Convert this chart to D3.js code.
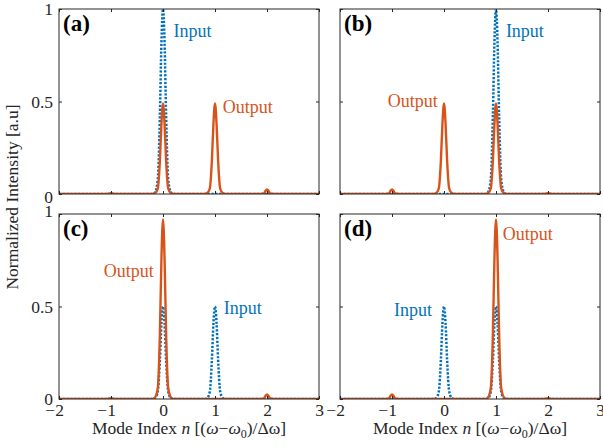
<!DOCTYPE html>
<html>
<head>
<meta charset="utf-8">
<script src="https://cdn.jsdelivr.net/npm/d3@7"></script>
<style>
  body { margin: 0; background: #fff; }
</style>
</head>
<body>
<div id="viz"></div>
<script>
// data: [mode index n, normalized intensity]
var xTicks = [-2, -1, 0, 1, 2, 3],
    yTicks = [0, 0.5, 1],
    panelNames = ['(a)', '(b)', '(c)', '(d)'];

var inputA = [[-2,0],[-0.2,0],[-0.15,0.01],[-0.1,0.08],[-0.06,0.42],[-0.03,0.82],[0,1],
  [0.03,0.82],[0.06,0.42],[0.1,0.08],[0.15,0.01],[0.2,0],[3,0]];
var outputA = [[-2,0],[-1.1,0],[-1,0.004],[-0.9,0],
  [-0.2,0],[-0.15,0.005],[-0.1,0.03],[-0.06,0.18],[-0.03,0.38],[0,0.49],[0.03,0.38],[0.06,0.18],[0.1,0.03],[0.15,0.005],[0.2,0],
  [0.8,0],[0.85,0.005],[0.9,0.03],[0.94,0.18],[0.97,0.38],[1,0.49],[1.03,0.38],[1.06,0.18],[1.1,0.03],[1.15,0.005],[1.2,0],
  [1.88,0],[1.94,0.003],[1.97,0.016],[2,0.025],[2.03,0.016],[2.06,0.003],[2.12,0],[3,0]];

var inputB = [[-2,0],[0.8,0],[0.85,0.01],[0.9,0.08],[0.94,0.42],[0.97,0.82],[1,1],
  [1.03,0.82],[1.06,0.42],[1.1,0.08],[1.15,0.01],[1.2,0],[3,0]];
var outputB = [[-2,0],
  [-1.12,0],[-1.06,0.003],[-1.03,0.016],[-1,0.025],[-0.97,0.016],[-0.94,0.003],[-0.88,0],
  [-0.2,0],[-0.15,0.005],[-0.1,0.03],[-0.06,0.18],[-0.03,0.38],[0,0.49],[0.03,0.38],[0.06,0.18],[0.1,0.03],[0.15,0.005],[0.2,0],
  [0.8,0],[0.85,0.005],[0.9,0.03],[0.94,0.18],[0.97,0.38],[1,0.49],[1.03,0.38],[1.06,0.18],[1.1,0.03],[1.15,0.005],[1.2,0],
  [1.9,0],[2,0.004],[2.1,0],[3,0]];

var inputCD = [[-2,0],
  [-0.2,0],[-0.15,0.005],[-0.1,0.04],[-0.06,0.21],[-0.03,0.41],[0,0.5],[0.03,0.41],[0.06,0.21],[0.1,0.04],[0.15,0.005],[0.2,0],
  [0.8,0],[0.85,0.005],[0.9,0.04],[0.94,0.21],[0.97,0.41],[1,0.5],[1.03,0.41],[1.06,0.21],[1.1,0.04],[1.15,0.005],[1.2,0],
  [3,0]];
var outputC = [[-2,0],[-1.1,0],[-1,0.004],[-0.9,0],
  [-0.2,0],[-0.15,0.01],[-0.1,0.06],[-0.06,0.35],[-0.03,0.76],[0,0.97],[0.03,0.76],[0.06,0.35],[0.1,0.06],[0.15,0.01],[0.2,0],
  [1.88,0],[1.94,0.003],[1.97,0.016],[2,0.025],[2.03,0.016],[2.06,0.003],[2.12,0],[3,0]];
var outputD = [[-2,0],
  [-1.12,0],[-1.06,0.003],[-1.03,0.016],[-1,0.025],[-0.97,0.016],[-0.94,0.003],[-0.88,0],
  [0.8,0],[0.85,0.01],[0.9,0.06],[0.94,0.35],[0.97,0.76],[1,0.97],[1.03,0.76],[1.06,0.35],[1.1,0.06],[1.15,0.01],[1.2,0],
  [1.9,0],[2,0.004],[2.1,0],[3,0]];

// label anchors in data units [n, I]
var panels = [
  {name: panelNames[0], input: inputA, output: outputA, inLab: [0.2, 0.85], outLab: [1.15, 0.44]},
  {name: panelNames[1], input: inputB, output: outputB, inLab: [1.19, 0.85], outLab: [-1.08, 0.47]},
  {name: panelNames[2], input: inputCD, output: outputC, inLab: [1.17, 0.46], outLab: [-1.14, 0.66]},
  {name: panelNames[3], input: inputCD, output: outputD, inLab: [-0.96, 0.45], outLab: [1.13, 0.86]}
];

var W = 603, H = 447,
    lefts = [59, 340], tops = [9, 214],
    pw = 260, ph = 185,
    serif = 'Liberation Serif',
    blue = '#0072BD', orange = '#D95319', ink = '#262626';

var svg = d3.select('#viz').append('svg')
    .attr('width', W).attr('height', H)
    .attr('font-family', serif);

var xScale = d3.scaleLinear().domain([-2, 3]).range([0, pw]);
var yScale = d3.scaleLinear().domain([0, 1]).range([ph, 0]);

var lineFunc = d3.line()
  .x(function(d) { return xScale(d[0]); })
  .y(function(d) { return yScale(d[1]); })
  .curve(d3.curveMonotoneX);

panels.forEach(function(p, i) {
  var col = i % 2, row = Math.floor(i / 2);
  var g = svg.append('g')
      .attr('transform', 'translate(' + lefts[col] + ',' + tops[row] + ')');

  g.append('clipPath').attr('id', 'clip' + i)
    .append('rect').attr('width', pw).attr('height', ph);

  var plot = g.append('g').attr('clip-path', 'url(#clip' + i + ')');
  plot.append('path')
    .attr('d', lineFunc(p.input))
    .attr('fill', 'none')
    .attr('stroke', blue)
    .attr('stroke-width', 2.5)
    .attr('stroke-dasharray', '2.2,1.6');
  plot.append('path')
    .attr('d', lineFunc(p.output))
    .attr('fill', 'none')
    .attr('stroke', orange)
    .attr('stroke-width', 2.4)
    .attr('stroke-linejoin', 'round');

  // axes: inward ticks on all four sides
  var bottom = g.append('g').attr('transform', 'translate(0,' + ph + ')')
    .call(d3.axisBottom(xScale).tickValues(xTicks).tickSize(-3).tickSizeOuter(0)
      .tickPadding(5).tickFormat(row === 1 ? function(d) { return d < 0 ? '\u2212' + (-d) : d; } : ''));
  var left = g.append('g')
    .call(d3.axisLeft(yScale).tickValues(yTicks).tickSize(-3).tickSizeOuter(0)
      .tickPadding(6).tickFormat(col === 0 ? function(d) { return d; } : ''));
  g.append('g')
    .call(d3.axisTop(xScale).tickValues(xTicks).tickSize(-3).tickSizeOuter(0).tickFormat(''));
  g.append('g').attr('transform', 'translate(' + pw + ',0)')
    .call(d3.axisRight(yScale).tickValues(yTicks).tickSize(-3).tickSizeOuter(0).tickFormat(''));

  g.selectAll('.domain').remove();
  g.selectAll('g').attr('font-family', serif);
  g.selectAll('.tick line').attr('stroke', ink);
  g.selectAll('.tick text')
    .attr('fill', ink)
    .attr('font-family', serif)
    .attr('font-size', 17.5);

  // digits centred on tick, minus hangs to the left
  bottom.selectAll('.tick text').attr('dx', function(d) { return d < 0 ? -4.9 : 0; });
  left.selectAll('.tick text').attr('dy', function(d) {
    if (row === 0 && d === 0) return '0.5em';
    if (row === 1 && d === 1) return '0.15em';
    return '0.32em';
  });

  g.append('rect')
    .attr('width', pw).attr('height', ph)
    .attr('fill', 'none').attr('stroke', ink).attr('stroke-width', 1);

  g.append('text')
    .attr('x', 4).attr('y', 22)
    .attr('font-family', serif)
    .attr('font-size', 23).attr('font-weight', 'bold')
    .attr('fill', '#000')
    .text(p.name);

  g.append('text')
    .attr('x', xScale(p.inLab[0])).attr('y', yScale(p.inLab[1]))
    .attr('font-family', serif)
    .attr('font-size', 18).attr('fill', blue)
    .text('Input');
  g.append('text')
    .attr('x', xScale(p.outLab[0])).attr('y', yScale(p.outLab[1]))
    .attr('font-family', serif)
    .attr('font-size', 18).attr('fill', orange)
    .text('Output');

  if (row === 1) {
    var xl = g.append('text')
      .attr('x', pw / 2).attr('y', ph + 35)
      .attr('text-anchor', 'middle')
      .attr('font-family', serif)
      .attr('font-size', 17.5).attr('fill', ink);
    xl.append('tspan').text('Mode Index ');
    xl.append('tspan').attr('font-style', 'italic').text('n');
    xl.append('tspan').text(' [(');
    xl.append('tspan').attr('font-style', 'italic').text('\u03c9');
    xl.append('tspan').text('\u2212');
    xl.append('tspan').attr('font-style', 'italic').text('\u03c9');
    xl.append('tspan').attr('font-size', 12).attr('dy', 4).text('0');
    xl.append('tspan').attr('dy', -4).text(')/\u0394\u03c9]');
  }
});

svg.append('text')
  .attr('transform', 'translate(18,' + 197 + ') rotate(-90)')
  .attr('text-anchor', 'middle')
  .attr('font-family', serif)
  .attr('font-size', 17.5).attr('fill', ink)
  .text('Normalized Intensity [a.u]');
</script>
</body>
</html>
